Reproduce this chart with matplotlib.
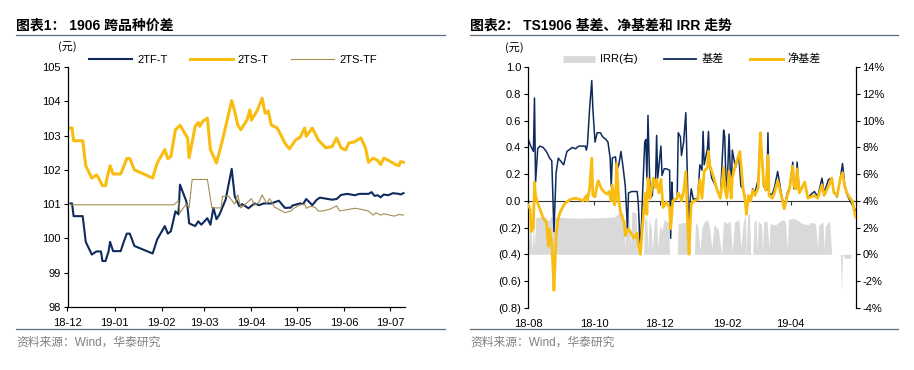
import numpy as np
import pandas as pd
import matplotlib
matplotlib.use("Agg")
import matplotlib.pyplot as plt
import matplotlib.dates as mdates
from matplotlib.lines import Line2D
from matplotlib.ticker import FuncFormatter, MultipleLocator

plt.rcParams["font.family"] = ["Liberation Sans", "Noto Sans CJK SC"]

# ── colours ──────────────────────────────────────────────────────────────────
NAVY   = "#0f2a5c"
GOLD   = "#f9bd12"
TAN    = "#a48e52"
GREY   = "#d9d9d9"
RULE   = "#5d6b78"

# ── chart 1: 1906 cross-product spreads ──────────────────────────────────────
tf_t_dates = ["2018-12-03", "2018-12-04", "2018-12-05", "2018-12-11", "2018-12-13",
              "2018-12-17", "2018-12-20", "2018-12-23", "2018-12-24", "2018-12-26",
              "2018-12-28", "2018-12-29", "2018-12-31", "2019-01-05", "2019-01-07",
              "2019-01-09", "2019-01-11", "2019-01-14", "2019-01-26", "2019-01-29",
              "2019-02-03", "2019-02-05", "2019-02-07", "2019-02-10", "2019-02-12",
              "2019-02-13", "2019-02-17", "2019-02-18", "2019-02-19", "2019-02-23",
              "2019-02-25", "2019-02-27", "2019-03-03", "2019-03-05", "2019-03-07",
              "2019-03-09", "2019-03-11", "2019-03-15", "2019-03-19", "2019-03-21",
              "2019-03-24", "2019-03-26", "2019-03-30", "2019-04-01", "2019-04-03",
              "2019-04-06", "2019-04-09", "2019-04-14", "2019-04-19", "2019-04-23",
              "2019-04-27", "2019-04-28", "2019-05-03", "2019-05-05", "2019-05-07",
              "2019-05-10", "2019-05-11", "2019-05-14", "2019-05-16", "2019-05-20",
              "2019-05-24", "2019-05-27", "2019-05-30", "2019-06-03", "2019-06-08",
              "2019-06-11", "2019-06-17", "2019-06-19", "2019-06-21", "2019-06-23",
              "2019-06-25", "2019-06-27", "2019-06-30", "2019-07-03", "2019-07-07",
              "2019-07-08", "2019-07-10"]
tf_t_vals = [101.02, 101.02, 100.65, 100.65, 99.90, 99.53, 99.62, 99.62, 99.34, 99.34,
             99.62, 99.90, 99.63, 99.63, 99.90, 100.14, 100.14, 99.78, 99.56, 99.97,
             100.36, 100.14, 100.21, 100.79, 100.70, 101.57, 101.10, 100.90, 100.44, 100.36,
             100.50, 100.40, 100.59, 100.40, 100.89, 100.56, 100.70, 101.13, 102.03, 101.23,
             100.94, 101.00, 100.88, 100.95, 101.02, 100.97, 101.02, 101.02, 101.10, 100.89,
             100.90, 100.96, 101.02, 101.00, 101.15, 101.02, 100.97, 101.13, 101.19, 101.16,
             101.13, 101.15, 101.27, 101.30, 101.26, 101.30, 101.30, 101.35, 101.24, 101.26,
             101.20, 101.28, 101.26, 101.32, 101.30, 101.28, 101.32]

ts_t_dates = ["2018-12-03", "2018-12-04", "2018-12-05", "2018-12-11", "2018-12-13",
              "2018-12-17", "2018-12-20", "2018-12-21", "2018-12-24", "2018-12-26",
              "2018-12-27", "2018-12-29", "2018-12-31", "2019-01-05", "2019-01-07",
              "2019-01-09", "2019-01-11", "2019-01-14", "2019-01-26", "2019-01-29",
              "2019-02-03", "2019-02-05", "2019-02-07", "2019-02-10", "2019-02-13",
              "2019-02-18", "2019-02-19", "2019-02-23", "2019-02-25", "2019-02-26",
              "2019-02-28", "2019-03-03", "2019-03-05", "2019-03-09", "2019-03-13",
              "2019-03-19", "2019-03-21", "2019-03-23", "2019-03-25", "2019-03-29",
              "2019-03-31", "2019-04-01", "2019-04-05", "2019-04-08", "2019-04-10",
              "2019-04-12", "2019-04-14", "2019-04-18", "2019-04-23", "2019-04-26",
              "2019-04-30", "2019-05-03", "2019-05-06", "2019-05-07", "2019-05-11",
              "2019-05-15", "2019-05-20", "2019-05-24", "2019-05-27", "2019-05-30",
              "2019-06-02", "2019-06-04", "2019-06-08", "2019-06-10", "2019-06-12",
              "2019-06-15", "2019-06-17", "2019-06-20", "2019-06-23", "2019-06-25",
              "2019-06-27", "2019-06-30", "2019-07-03", "2019-07-05", "2019-07-07",
              "2019-07-08", "2019-07-10"]
ts_t_vals = [103.22, 103.22, 102.85, 102.85, 102.12, 101.76, 101.85, 101.80, 101.54, 101.54,
             101.76, 102.12, 101.88, 101.88, 102.10, 102.33, 102.33, 102.00, 101.76, 102.20,
             102.59, 102.33, 102.39, 103.17, 103.30, 102.93, 102.35, 103.27, 103.38, 103.27,
             103.42, 103.51, 102.59, 102.20, 102.88, 104.02, 103.70, 103.31, 103.17, 103.45,
             103.75, 103.45, 103.75, 104.09, 103.65, 103.72, 103.31, 103.22, 102.78, 102.61,
             102.87, 102.95, 103.22, 102.98, 103.22, 102.87, 102.64, 102.68, 102.93, 102.64,
             102.58, 102.78, 102.82, 102.88, 102.93, 102.64, 102.22, 102.34, 102.28, 102.15,
             102.34, 102.28, 102.20, 102.15, 102.12, 102.24, 102.22]

ts_tf_dates = ["2018-12-03", "2019-02-09", "2019-02-12", "2019-02-13", "2019-02-17",
               "2019-02-19", "2019-02-21", "2019-03-03", "2019-03-06", "2019-03-12",
               "2019-03-13", "2019-03-17", "2019-03-21", "2019-03-23", "2019-03-25",
               "2019-03-29", "2019-04-01", "2019-04-03", "2019-04-06", "2019-04-08",
               "2019-04-11", "2019-04-13", "2019-04-16", "2019-04-21", "2019-04-23",
               "2019-04-27", "2019-04-29", "2019-05-03", "2019-05-06", "2019-05-07",
               "2019-05-10", "2019-05-13", "2019-05-15", "2019-05-18", "2019-05-23",
               "2019-05-27", "2019-05-29", "2019-06-03", "2019-06-08", "2019-06-12",
               "2019-06-17", "2019-06-20", "2019-06-22", "2019-06-25", "2019-06-27",
               "2019-07-01", "2019-07-04", "2019-07-07", "2019-07-10"]
ts_tf_vals = [100.98, 100.98, 101.10, 100.75, 101.00, 100.90, 101.72, 101.72, 100.89, 100.89,
              101.23, 101.23, 101.00, 101.27, 100.89, 101.04, 101.16, 100.97, 101.06, 101.27,
              101.02, 101.16, 100.92, 100.80, 100.75, 100.80, 100.88, 100.98, 101.00, 100.88,
              100.94, 100.90, 100.80, 100.80, 100.86, 100.95, 100.80, 100.84, 100.88, 100.85,
              100.80, 100.68, 100.75, 100.68, 100.72, 100.68, 100.65, 100.70, 100.68]

# ── chart 2: TS1906 basis, net basis and IRR ─────────────────────────────────
basis_dates = ["2018-08-01", "2018-08-03", "2018-08-06", "2018-08-07", "2018-08-08",
               "2018-08-10", "2018-08-12", "2018-08-15", "2018-08-18", "2018-08-21",
               "2018-08-23", "2018-08-24", "2018-08-25", "2018-08-27", "2018-08-29",
               "2018-08-31", "2018-09-03", "2018-09-06", "2018-09-11", "2018-09-14",
               "2018-09-17", "2018-09-23", "2018-09-24", "2018-09-25", "2018-09-27",
               "2018-09-29", "2018-09-30", "2018-10-02", "2018-10-04", "2018-10-07",
               "2018-10-09", "2018-10-12", "2018-10-14", "2018-10-16", "2018-10-17",
               "2018-10-18", "2018-10-21", "2018-10-22", "2018-10-24", "2018-10-26",
               "2018-10-28", "2018-10-30", "2018-11-01", "2018-11-02", "2018-11-05",
               "2018-11-10", "2018-11-11", "2018-11-13", "2018-11-15", "2018-11-17",
               "2018-11-18", "2018-11-19", "2018-11-20", "2018-11-22", "2018-11-24",
               "2018-11-25", "2018-11-27", "2018-11-28", "2018-11-29", "2018-11-30",
               "2018-12-02", "2018-12-03", "2018-12-05", "2018-12-07", "2018-12-10",
               "2018-12-11", "2018-12-12", "2018-12-13", "2018-12-17", "2018-12-18",
               "2018-12-20", "2018-12-21", "2018-12-23", "2018-12-25", "2018-12-27",
               "2018-12-28", "2018-12-29", "2018-12-30", "2019-01-01", "2019-01-05",
               "2019-01-07", "2019-01-09", "2019-01-10", "2019-01-11", "2019-01-14",
               "2019-01-15", "2019-01-16", "2019-01-18", "2019-01-23", "2019-01-26",
               "2019-01-29", "2019-01-30", "2019-01-31", "2019-02-01", "2019-02-03",
               "2019-02-05", "2019-02-06", "2019-02-09", "2019-02-12", "2019-02-14",
               "2019-02-16", "2019-02-18", "2019-02-19", "2019-02-21", "2019-02-23",
               "2019-02-25", "2019-02-27", "2019-03-02", "2019-03-04", "2019-03-07",
               "2019-03-10", "2019-03-11", "2019-03-12", "2019-03-15", "2019-03-17",
               "2019-03-20", "2019-03-23", "2019-03-26", "2019-03-29", "2019-03-31",
               "2019-04-03", "2019-04-04", "2019-04-06", "2019-04-07", "2019-04-09",
               "2019-04-11", "2019-04-14", "2019-04-17", "2019-04-20", "2019-04-23",
               "2019-04-26", "2019-04-30", "2019-05-02", "2019-05-06", "2019-05-09",
               "2019-05-11", "2019-05-14", "2019-05-17", "2019-05-19", "2019-05-21",
               "2019-05-23", "2019-05-26", "2019-05-28", "2019-05-31"]
basis_vals = [0.47, 0.42, 0.37, 0.77, 0.14, 0.39, 0.41, 0.40, 0.37, 0.32,
              0.30, 0.04, -0.23, 0.21, 0.32, 0.30, 0.27, 0.37, 0.40, 0.39,
              0.41, 0.41, 0.38, 0.42, 0.69, 0.90, 0.69, 0.44, 0.51, 0.51,
              0.48, 0.46, 0.44, 0.32, 0.11, 0.32, 0.33, 0.23, 0.27, 0.37,
              0.25, 0.11, -0.21, 0.06, 0.07, 0.07, -0.01, -0.39, 0.05, 0.44,
              0.46, 0.17, 0.64, 0.02, 0.04, 0.17, 0.14, 0.49, 0.17, 0.25,
              0.41, 0.19, 0.24, 0.24, 0.23, -0.28, 0.14, 0.00, 0.02, 0.51,
              0.48, 0.34, 0.44, 0.66, 0.00, -0.18, 0.00, 0.09, 0.01, 0.02,
              0.27, 0.23, 0.52, 0.27, 0.39, 0.52, 0.27, 0.17, 0.09, 0.02,
              0.53, 0.48, 0.19, 0.04, 0.50, 0.02, 0.38, 0.25, 0.34, 0.11,
              0.09, 0.02, -0.08, 0.02, 0.00, 0.09, 0.06, 0.16, 0.51, 0.11,
              0.08, 0.51, 0.05, 0.05, 0.10, 0.22, 0.07, -0.05, 0.06, 0.10,
              0.29, 0.09, 0.10, 0.29, 0.06, 0.10, 0.14, 0.02, 0.05, 0.07,
              0.03, 0.17, 0.06, 0.16, 0.17, 0.07, 0.03, 0.17, 0.28, 0.12,
              0.05, 0.00, -0.03, -0.07]

net_dates = ["2018-08-01", "2018-08-03", "2018-08-04", "2018-08-06", "2018-08-07",
             "2018-08-08", "2018-08-10", "2018-08-12", "2018-08-15", "2018-08-18",
             "2018-08-20", "2018-08-21", "2018-08-23", "2018-08-24", "2018-08-25",
             "2018-08-27", "2018-08-29", "2018-08-31", "2018-09-04", "2018-09-09",
             "2018-09-14", "2018-09-18", "2018-09-21", "2018-09-24", "2018-09-25",
             "2018-09-27", "2018-09-29", "2018-09-30", "2018-10-02", "2018-10-04",
             "2018-10-05", "2018-10-08", "2018-10-10", "2018-10-13", "2018-10-15",
             "2018-10-17", "2018-10-18", "2018-10-20", "2018-10-21", "2018-10-22",
             "2018-10-24", "2018-10-26", "2018-10-29", "2018-10-30", "2018-11-02",
             "2018-11-05", "2018-11-07", "2018-11-10", "2018-11-11", "2018-11-13",
             "2018-11-15", "2018-11-17", "2018-11-18", "2018-11-19", "2018-11-20",
             "2018-11-22", "2018-11-25", "2018-11-27", "2018-11-28", "2018-11-30",
             "2018-12-02", "2018-12-04", "2018-12-07", "2018-12-10", "2018-12-11",
             "2018-12-13", "2018-12-17", "2018-12-18", "2018-12-20", "2018-12-21",
             "2018-12-23", "2018-12-25", "2018-12-27", "2018-12-28", "2018-12-29",
             "2018-12-30", "2019-01-02", "2019-01-05", "2019-01-07", "2019-01-09",
             "2019-01-11", "2019-01-14", "2019-01-15", "2019-01-16", "2019-01-20",
             "2019-01-23", "2019-01-26", "2019-01-29", "2019-01-30", "2019-02-01",
             "2019-02-03", "2019-02-05", "2019-02-06", "2019-02-09", "2019-02-13",
             "2019-02-16", "2019-02-18", "2019-02-19", "2019-02-21", "2019-02-23",
             "2019-02-25", "2019-02-27", "2019-03-02", "2019-03-04", "2019-03-07",
             "2019-03-09", "2019-03-11", "2019-03-12", "2019-03-15", "2019-03-17",
             "2019-03-20", "2019-03-23", "2019-03-26", "2019-03-29", "2019-03-31",
             "2019-04-03", "2019-04-04", "2019-04-06", "2019-04-07", "2019-04-09",
             "2019-04-11", "2019-04-14", "2019-04-17", "2019-04-20", "2019-04-23",
             "2019-04-26", "2019-04-30", "2019-05-02", "2019-05-06", "2019-05-09",
             "2019-05-11", "2019-05-14", "2019-05-17", "2019-05-19", "2019-05-21",
             "2019-05-23", "2019-05-26", "2019-05-28", "2019-05-31"]
net_vals = [-0.03, -0.06, -0.23, -0.20, 0.14, 0.04, -0.02, -0.06, -0.13, -0.16,
            -0.34, -0.21, -0.32, -0.48, -0.67, -0.26, -0.13, -0.08, -0.02, 0.01,
            0.02, 0.01, 0.00, 0.04, 0.00, 0.09, 0.32, 0.04, 0.03, 0.12,
            0.15, 0.09, 0.07, 0.05, 0.07, 0.00, 0.12, -0.03, 0.00, 0.28,
            0.00, -0.10, -0.16, -0.26, -0.21, -0.25, -0.28, -0.24, -0.32, -0.40,
            -0.18, 0.00, 0.06, -0.10, 0.17, 0.02, 0.17, 0.10, 0.16, 0.06,
            0.16, -0.05, -0.01, -0.05, -0.21, 0.00, 0.02, 0.06, 0.03, 0.00,
            0.07, 0.22, -0.23, -0.40, -0.19, -0.02, 0.00, 0.01, 0.16, 0.02,
            0.22, 0.25, 0.37, 0.27, 0.17, 0.08, 0.02, 0.25, 0.10, 0.02,
            0.22, 0.02, 0.17, 0.27, 0.37, 0.09, 0.00, -0.10, 0.04, 0.00,
            0.08, 0.04, 0.10, 0.51, 0.14, 0.08, 0.34, 0.04, 0.02, 0.06,
            0.15, 0.05, -0.06, 0.04, 0.09, 0.26, 0.11, 0.09, 0.24, 0.06,
            0.09, 0.14, 0.02, 0.03, 0.04, 0.02, 0.12, 0.04, 0.11, 0.17,
            0.06, 0.04, 0.17, 0.21, 0.11, 0.06, 0.02, 0.00, -0.12]

irr_dates = ["2018-08-01", "2018-08-02", "2018-08-03", "2018-08-05", "2018-08-06",
             "2018-08-07", "2018-08-08", "2018-08-10", "2018-08-17", "2018-08-20",
             "2018-08-22", "2018-09-15", "2018-10-15", "2018-10-20", "2018-10-24",
             "2018-10-28", "2018-10-30", "2018-10-31", "2018-11-02", "2018-11-04",
             "2018-11-05", "2018-11-09", "2018-11-10", "2018-11-11", "2018-11-12",
             "2018-11-13", "2018-11-16", "2018-11-17", "2018-11-19", "2018-11-20",
             "2018-11-21", "2018-11-23", "2018-11-24", "2018-11-26", "2018-11-28",
             "2018-11-29", "2018-12-01", "2018-12-03", "2018-12-05", "2018-12-07",
             "2018-12-09", "2018-12-10", "2018-12-17", "2018-12-18", "2018-12-26",
             "2018-12-27", "2019-01-02", "2019-01-03", "2019-01-05", "2019-01-07",
             "2019-01-09", "2019-01-11", "2019-01-14", "2019-01-16", "2019-01-18",
             "2019-01-20", "2019-01-24", "2019-01-27", "2019-01-29", "2019-02-01",
             "2019-02-04", "2019-02-06", "2019-02-08", "2019-02-12", "2019-02-14",
             "2019-02-16", "2019-02-18", "2019-02-19", "2019-02-20", "2019-02-22",
             "2019-02-23", "2019-02-25", "2019-02-26", "2019-02-28", "2019-03-01",
             "2019-03-02", "2019-03-05", "2019-03-06", "2019-03-07", "2019-03-10",
             "2019-03-12", "2019-03-13", "2019-03-18", "2019-03-21", "2019-03-25",
             "2019-03-27", "2019-03-29", "2019-03-30", "2019-04-04", "2019-04-08",
             "2019-04-12", "2019-04-17", "2019-04-20", "2019-04-24", "2019-04-26",
             "2019-04-27", "2019-05-01", "2019-05-02", "2019-05-03", "2019-05-07",
             "2019-05-09", "2019-05-17", "2019-05-18", "2019-05-19", "2019-05-21",
             "2019-05-26", "2019-05-27", "2019-05-31"]
irr_vals = [2.9, 0.8, 2.5, 0.3, 2.6, 0.5, 2.7, 2.8, 2.8, 2.5,
            2.8, 2.7, 2.75, 2.8, 3.1, 3.1, 0.5, 3.0, 3.0, 0.8,
            3.2, 3.1, 0.6, 3.1, 3.0, 0.0, 0.0, 2.8, 2.5, 0.3,
            2.6, 2.0, 0.2, 2.6, 2.8, 0.5, 2.2, 1.8, 2.6, 2.5,
            2.4, 0.0, 0.0, 2.3, 2.4, 0.0, 0.0, 2.4, 2.2, 0.3,
            2.0, 2.4, 2.6, 2.0, 0.4, 2.2, 1.9, 0.0, 2.5, 2.3,
            2.5, 0.2, 2.4, 2.6, 0.5, 2.3, 3.1, 0.0, 3.0, 3.0,
            0.0, 0.0, 2.4, 2.6, 0.3, 2.5, 2.2, 0.2, 2.4, 2.5,
            0.5, 2.3, 2.2, 2.4, 2.6, 2.5, 0.4, 2.6, 2.7, 2.5,
            2.3, 2.2, 2.4, 2.3, 0.5, 2.2, 2.4, 0.3, 2.1, 2.5,
            0.0, 0.0, -2.7, 0.0, -0.3, -0.3, 0.0, 0.0]

FS = 8
W, H = 914, 370


def box(x0, y0, x1, y1):
    """pixel box (top-left origin) -> figure fraction rect"""
    return [x0 / W, 1 - y1 / H, (x1 - x0) / W, (y1 - y0) / H]


fig = plt.figure(figsize=(W / 100, H / 100), dpi=100)

# ── left panel ───────────────────────────────────────────────────────────────
ax1 = fig.add_axes(box(67.5, 67, 405, 307))
ax1.plot(pd.to_datetime(tf_t_dates), tf_t_vals, color=NAVY, lw=1.5, label="2TF-T", zorder=3)
ax1.plot(pd.to_datetime(ts_t_dates), ts_t_vals, color=GOLD, lw=2.2, label="2TS-T", zorder=2)
ax1.plot(pd.to_datetime(ts_tf_dates), ts_tf_vals, color=TAN, lw=0.8, label="2TS-TF", zorder=4)
ax1.set_ylim(98, 105)
ax1.yaxis.set_major_locator(MultipleLocator(1))
ax1.set_xlim(pd.Timestamp("2018-12-01"), pd.Timestamp("2019-07-11"))
ax1.xaxis.set_major_locator(mdates.MonthLocator())
ax1.xaxis.set_major_formatter(mdates.DateFormatter("%y-%m"))
for s in ["top", "right"]:
    ax1.spines[s].set_visible(False)
for s in ["left", "bottom"]:
    ax1.spines[s].set_linewidth(0.9)
ax1.tick_params(axis="y", labelsize=FS, length=3, width=0.8, direction="out", pad=2)
ax1.tick_params(axis="x", labelsize=FS, length=3, width=0.8, direction="out", pad=5)
ax1.legend(loc="center", bbox_to_anchor=(0.49, 1.03), ncol=3, frameon=False,
           fontsize=FS, handlelength=3.9, handletextpad=0.45, columnspacing=2.0,
           borderpad=0)
fig.text(67 / W, 1 - 47 / H, "(元)", fontsize=FS, ha="center", va="center",
         family=["Noto Sans CJK SC"])

# ── right panel ──────────────────────────────────────────────────────────────
ax = fig.add_axes(box(528, 67.3, 855.5, 307.7))
ax2 = ax.twinx()
ax.set_zorder(ax2.get_zorder() + 1)
ax.patch.set_visible(False)

ax2.fill_between(pd.to_datetime(irr_dates), irr_vals, 0, color=GREY, lw=0)
ax.axhline(0, color="#333333", lw=0.8, zorder=1.5)
ax.plot(pd.to_datetime(basis_dates), basis_vals, color=NAVY, lw=1.1, zorder=2)
ax.plot(pd.to_datetime(net_dates), net_vals, color=GOLD, lw=2.0, zorder=3)

ax.set_ylim(-0.8, 1.0)
ax.set_yticks(np.arange(-0.8, 1.01, 0.2))
ax.yaxis.set_major_formatter(FuncFormatter(
    lambda v, p: f"({abs(v):.1f})" if v < -1e-9 else f"{abs(v):.1f}"))
ax2.set_ylim(-4, 14)
ax2.yaxis.set_major_locator(MultipleLocator(2))
ax2.yaxis.set_major_formatter(FuncFormatter(lambda v, p: f"{v:.0f}%"))

ax.set_xlim(pd.Timestamp("2018-08-01"), pd.Timestamp("2019-05-31"))
ax.xaxis.set_major_locator(mdates.MonthLocator(bymonth=[2, 4, 6, 8, 10, 12]))
ax.xaxis.set_major_formatter(mdates.DateFormatter("%y-%m"))

for s in ["top", "right", "bottom"]:
    ax.spines[s].set_visible(False)
for s in ["top", "left", "bottom"]:
    ax2.spines[s].set_visible(False)
ax.spines["left"].set_linewidth(0.9)
ax2.spines["right"].set_linewidth(0.9)
ax.tick_params(axis="y", labelsize=FS, length=3, width=0.8, pad=2)
ax.tick_params(axis="x", labelsize=FS, length=0, pad=8)
ax2.tick_params(axis="y", labelsize=FS, length=3, width=0.8, pad=2)

# small tick marks on the zero line
zero_ax = ax.secondary_xaxis(0.8 / 1.8)
zero_ax.xaxis.set_major_locator(mdates.MonthLocator(bymonth=[2, 4, 6, 8, 10, 12]))
zero_ax.tick_params(axis="x", length=3, width=0.8, labelbottom=False, color="#333333")
zero_ax.spines["bottom"].set_visible(False)

handles = [Line2D([], [], color=GREY, lw=5, solid_capstyle="butt"),
           Line2D([], [], color=NAVY, lw=1.3),
           Line2D([], [], color=GOLD, lw=2.2)]
ax.legend(handles, ["IRR(右)", "基差", "净基差"], loc="center",
          bbox_to_anchor=(0.5, 1.035), ncol=3, frameon=False,
          handlelength=2.9, handletextpad=0.45, columnspacing=2.4, borderpad=0,
          prop={"family": ["Liberation Sans", "Noto Sans CJK SC"], "size": FS})
fig.text(514 / W, 1 - 48 / H, "(元)", fontsize=FS, ha="center", va="center",
         family=["Noto Sans CJK SC"])

# ── titles, rules and sources ────────────────────────────────────────────────
for x0, x1, title in [(16, 445, "图表1： 1906 跨品种价差"),
                      (470, 898, "图表2： TS1906 基差、净基差和 IRR 走势")]:
    fig.text(x0 / W, 1 - 26 / H, title, fontsize=10, fontweight="bold",
             ha="left", va="center")
    fig.add_artist(Line2D([x0 / W, x1 / W], [1 - 35 / H] * 2, color=RULE, lw=0.9))
    fig.add_artist(Line2D([x0 / W, x1 / W], [1 - 329 / H] * 2, color=RULE, lw=0.9))
    fig.text(x0 / W, 1 - 343 / H, "资料来源：Wind，华泰研究", fontsize=8.5,
             color="#808080", ha="left", va="center")

fig.savefig("out.png", dpi=100)
